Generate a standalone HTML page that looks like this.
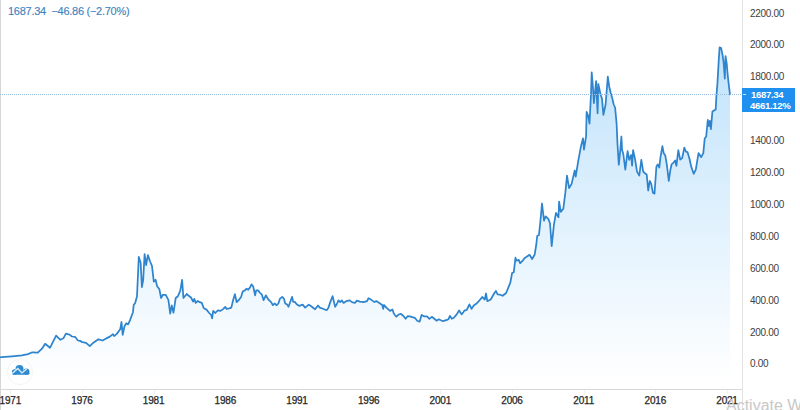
<!DOCTYPE html>
<html><head><meta charset="utf-8"><style>
html,body{margin:0;padding:0;background:#fff;}
body{width:800px;height:410px;position:relative;overflow:hidden;font-family:"Liberation Sans",sans-serif;}
svg{position:absolute;left:0;top:0;}
.yr{position:absolute;top:395px;width:40px;text-align:center;font-size:10px;line-height:12px;color:#262626;letter-spacing:-0.2px;-webkit-text-stroke:0.25px #262626;}
.pr{position:absolute;left:750px;font-size:10px;line-height:12px;color:#404040;letter-spacing:-0.3px;}
.legend{position:absolute;left:8px;top:5px;font-size:11px;line-height:13px;color:#3f84c0;white-space:pre;letter-spacing:-0.27px;-webkit-text-stroke:0.15px #3f84c0;}
.lbl{position:absolute;left:742px;top:88px;width:53px;height:24px;background:#1f8ff0;}
.lbl div{position:absolute;left:0;width:60px;text-align:left;color:#fff;font-size:9.6px;line-height:11px;font-weight:bold;letter-spacing:-0.35px;white-space:nowrap;}
.wm{position:absolute;left:726px;top:397px;font-size:16px;line-height:18px;color:#c8c8c8;white-space:nowrap;}
</style></head><body>
<svg width="800" height="410" viewBox="0 0 800 410">
<defs><linearGradient id="g" x1="0" y1="47" x2="0" y2="382" gradientUnits="userSpaceOnUse">
<stop offset="0" stop-color="#1f9af2" stop-opacity="0.28"/>
<stop offset="1" stop-color="#1f9af2" stop-opacity="0.0"/>
</linearGradient></defs>
<rect x="0" y="0" width="1" height="410" fill="#d6d6d6"/>
<path d="M0.5 357.3 L1.2 357.2 L12.2 356.3 L22 355.4 L28 354.1 L32.3 352.3 L37.8 352.7 L42 348.7 L45.1 343.8 L50 347.8 L56.1 335.6 L60.4 339.8 L63.4 338.3 L65.9 333.7 L69.5 334.6 L72 336.5 L75 336.8 L78 340.5 L80 340.9 L82.4 342.1 L86.1 342.9 L89.8 346.1 L93.4 342.7 L98.3 339.3 L102.6 340.5 L106.2 338.4 L109.9 336.6 L112.9 334.1 L114.1 336 L116.6 334.1 L120.2 329.3 L121.5 322 L122.7 334.8 L124.5 326.2 L126.3 323.2 L128.2 324.4 L130 320.1 L133 312.2 L133.7 304.9 L135.1 303.2 L137 296.2 L138.8 256.9 L140.6 262.4 L141.9 287.1 L143.2 279.8 L144.6 254.1 L146.1 265.1 L147.9 255.1 L150.1 261.5 L152 266 L153.8 281.6 L155.6 279.8 L157.1 286.2 L159.3 289 L161.1 298 L162.9 294.8 L165.7 294.8 L168.4 299.9 L170.2 313.6 L171.7 305.4 L173.5 312.7 L175.7 298 L177.9 296.2 L180.3 290.7 L182.1 279.8 L183.4 298 L186.7 294 L188.4 295.5 L191 297.5 L193.1 301.5 L194.4 298.9 L195.7 302.9 L197.8 300.9 L199.8 302.2 L201.8 302.9 L203.8 308.3 L206.5 309.6 L209.2 313 L211.2 315 L212.1 318.3 L213.2 310.9 L215.2 313 L217.9 310.3 L220.6 310.9 L223.3 308.9 L225.3 306.9 L226.6 308.9 L229.3 308.3 L231.3 307.6 L233.3 299.5 L234.9 294.2 L236.7 302.2 L238.7 300.2 L241.1 296.9 L242.7 291.5 L244.9 290.4 L246.6 288.7 L248.2 289.8 L249.9 287.6 L251.5 284.3 L253.2 286.5 L255.1 295.3 L256.2 290.4 L258.1 290.4 L259.7 292.5 L261.9 294.7 L263.6 300.2 L265.8 295.3 L268.5 299.7 L271.3 302.4 L272.9 305.2 L274.6 303.5 L276.7 305.2 L278.4 303.5 L280 298.6 L282.2 296.9 L283.9 298.6 L285.2 303.5 L287.2 304.6 L288.5 306.8 L290.5 301.3 L292.1 296.9 L293.2 301.9 L294.8 301.9 L296.7 304.2 L299.3 305.9 L302.7 304.6 L305.2 307.6 L308.7 304.6 L311.2 306.3 L315.1 309.3 L318 305.5 L319.8 307.6 L322.3 308.5 L326.6 310.2 L328.3 308 L330 302.9 L332.6 296.1 L335.1 306.8 L336.8 304.2 L338.5 300.4 L340.2 302.1 L341.9 300.4 L343.6 302.9 L346.2 301.2 L349.6 300.4 L352 302.1 L354.9 303 L356.8 300.6 L359.8 301.6 L363.7 302.1 L367.1 301.1 L368.5 298.2 L371 299.6 L374.4 302.1 L376.3 301.1 L379.3 303 L382.2 305 L383.2 308.9 L384.1 305 L386.6 307.9 L390 310.9 L392.4 309.4 L393.9 313.8 L396.3 316.7 L398.3 314.8 L400.7 313.8 L403.2 315.7 L405.6 318.7 L407.6 316.2 L409.9 316.3 L414.8 317.8 L417.2 320.7 L419.6 321.7 L421.6 314.9 L424 316.3 L427 316.3 L429.4 318.8 L431.8 316.8 L434.3 318.8 L436.7 320.7 L438.7 319.3 L443 321.2 L447 319.8 L448.4 319.3 L449.9 315.9 L451.8 318.8 L453.8 317.8 L456.7 314.4 L459.1 310.5 L461.6 314.4 L463.5 312 L464.3 310.6 L466.8 309.8 L469.4 304.3 L471.6 308.9 L473.7 305.5 L476.2 303.8 L478.8 301.2 L482.2 297 L484.8 299.5 L486 293.5 L487.3 301.2 L490.7 299.5 L494.1 293.5 L495.9 291 L497.6 294.4 L500.1 294.7 L502.7 295.8 L506.1 293 L508.7 286.7 L510.4 282.4 L512.1 273 L513.8 272.2 L515.5 257.7 L516.7 260.7 L518.8 259.9 L520.1 263.3 L522.7 260.7 L524.4 258.2 L527 256.5 L529.5 254.8 L532.1 259 L534.6 254.8 L536.3 244.5 L537.2 236 L538.9 235.1 L540.3 222.3 L542 203.5 L544 220.6 L545.7 216.3 L548.3 218.9 L550 223.2 L551.7 246.2 L553.9 224.9 L556 212.9 L558.5 217.2 L559.1 201.6 L560.8 211.9 L563.3 208.8 L565.4 192.2 L567 175.6 L569.1 188.1 L571.6 183.9 L574.7 170.5 L575.7 176.7 L578.2 161.1 L580.9 146.6 L583 138.3 L584 149.7 L586.1 136.2 L586.6 111.9 L588.1 115.5 L589.5 123.6 L591 94.3 L591.7 72.3 L592.9 87 L593.9 103.1 L596.1 81.1 L597.6 113.3 L598.3 84 L600.5 94.3 L602 98.7 L603.4 114.8 L605.6 104.5 L607.8 76.7 L609.3 87 L610.7 92.8 L612.2 97.9 L613.7 104.5 L615.1 107.5 L616.6 123.6 L617.5 144.3 L618.8 164.8 L620.2 151.1 L621.4 136.5 L622.1 150.1 L623.3 154 L625.3 169.6 L627.6 151.1 L629.2 159.9 L631.1 155 L632.1 165.7 L633.1 150.1 L635 158.9 L637 171.6 L639.3 175.5 L641.3 159.9 L643.2 171.6 L645.2 173.5 L646.7 174.5 L648.2 190.5 L649.8 181 L651.3 184.1 L652.9 192.8 L654.5 193.6 L656.4 166.7 L657.7 164.3 L659.3 167.5 L660.5 157.2 L662.4 146.1 L663.7 153.2 L665.3 155.6 L666.9 165.1 L668.8 181 L670.4 169.9 L671.6 164.3 L673.5 162.7 L675.1 160.4 L676.4 165.9 L678.3 150.1 L680.2 159.6 L682.2 158 L684.3 147.7 L685.9 151.6 L687.5 152.1 L689.6 159.3 L691.2 166.6 L693.7 173.8 L695.8 169.7 L698.5 153.1 L701.2 157.2 L703.3 153.1 L704.7 138.6 L706.2 136.5 L707.8 119.9 L708.9 126.1 L709.9 120.9 L710.9 129.2 L712.4 111.6 L714 110.6 L715.7 109.5 L716.4 96 L717.4 83.9 L718.9 57.6 L719.6 47.3 L721.1 48 L722.6 55.4 L723.7 63.4 L724.8 78.6 L725.5 56.1 L726.7 63.4 L727.7 75.1 L729.2 88.3 L730 94.3 L730 389 L0 389 Z" fill="url(#g)"/>
<path d="M0.5 357.3 L1.2 357.2 L12.2 356.3 L22 355.4 L28 354.1 L32.3 352.3 L37.8 352.7 L42 348.7 L45.1 343.8 L50 347.8 L56.1 335.6 L60.4 339.8 L63.4 338.3 L65.9 333.7 L69.5 334.6 L72 336.5 L75 336.8 L78 340.5 L80 340.9 L82.4 342.1 L86.1 342.9 L89.8 346.1 L93.4 342.7 L98.3 339.3 L102.6 340.5 L106.2 338.4 L109.9 336.6 L112.9 334.1 L114.1 336 L116.6 334.1 L120.2 329.3 L121.5 322 L122.7 334.8 L124.5 326.2 L126.3 323.2 L128.2 324.4 L130 320.1 L133 312.2 L133.7 304.9 L135.1 303.2 L137 296.2 L138.8 256.9 L140.6 262.4 L141.9 287.1 L143.2 279.8 L144.6 254.1 L146.1 265.1 L147.9 255.1 L150.1 261.5 L152 266 L153.8 281.6 L155.6 279.8 L157.1 286.2 L159.3 289 L161.1 298 L162.9 294.8 L165.7 294.8 L168.4 299.9 L170.2 313.6 L171.7 305.4 L173.5 312.7 L175.7 298 L177.9 296.2 L180.3 290.7 L182.1 279.8 L183.4 298 L186.7 294 L188.4 295.5 L191 297.5 L193.1 301.5 L194.4 298.9 L195.7 302.9 L197.8 300.9 L199.8 302.2 L201.8 302.9 L203.8 308.3 L206.5 309.6 L209.2 313 L211.2 315 L212.1 318.3 L213.2 310.9 L215.2 313 L217.9 310.3 L220.6 310.9 L223.3 308.9 L225.3 306.9 L226.6 308.9 L229.3 308.3 L231.3 307.6 L233.3 299.5 L234.9 294.2 L236.7 302.2 L238.7 300.2 L241.1 296.9 L242.7 291.5 L244.9 290.4 L246.6 288.7 L248.2 289.8 L249.9 287.6 L251.5 284.3 L253.2 286.5 L255.1 295.3 L256.2 290.4 L258.1 290.4 L259.7 292.5 L261.9 294.7 L263.6 300.2 L265.8 295.3 L268.5 299.7 L271.3 302.4 L272.9 305.2 L274.6 303.5 L276.7 305.2 L278.4 303.5 L280 298.6 L282.2 296.9 L283.9 298.6 L285.2 303.5 L287.2 304.6 L288.5 306.8 L290.5 301.3 L292.1 296.9 L293.2 301.9 L294.8 301.9 L296.7 304.2 L299.3 305.9 L302.7 304.6 L305.2 307.6 L308.7 304.6 L311.2 306.3 L315.1 309.3 L318 305.5 L319.8 307.6 L322.3 308.5 L326.6 310.2 L328.3 308 L330 302.9 L332.6 296.1 L335.1 306.8 L336.8 304.2 L338.5 300.4 L340.2 302.1 L341.9 300.4 L343.6 302.9 L346.2 301.2 L349.6 300.4 L352 302.1 L354.9 303 L356.8 300.6 L359.8 301.6 L363.7 302.1 L367.1 301.1 L368.5 298.2 L371 299.6 L374.4 302.1 L376.3 301.1 L379.3 303 L382.2 305 L383.2 308.9 L384.1 305 L386.6 307.9 L390 310.9 L392.4 309.4 L393.9 313.8 L396.3 316.7 L398.3 314.8 L400.7 313.8 L403.2 315.7 L405.6 318.7 L407.6 316.2 L409.9 316.3 L414.8 317.8 L417.2 320.7 L419.6 321.7 L421.6 314.9 L424 316.3 L427 316.3 L429.4 318.8 L431.8 316.8 L434.3 318.8 L436.7 320.7 L438.7 319.3 L443 321.2 L447 319.8 L448.4 319.3 L449.9 315.9 L451.8 318.8 L453.8 317.8 L456.7 314.4 L459.1 310.5 L461.6 314.4 L463.5 312 L464.3 310.6 L466.8 309.8 L469.4 304.3 L471.6 308.9 L473.7 305.5 L476.2 303.8 L478.8 301.2 L482.2 297 L484.8 299.5 L486 293.5 L487.3 301.2 L490.7 299.5 L494.1 293.5 L495.9 291 L497.6 294.4 L500.1 294.7 L502.7 295.8 L506.1 293 L508.7 286.7 L510.4 282.4 L512.1 273 L513.8 272.2 L515.5 257.7 L516.7 260.7 L518.8 259.9 L520.1 263.3 L522.7 260.7 L524.4 258.2 L527 256.5 L529.5 254.8 L532.1 259 L534.6 254.8 L536.3 244.5 L537.2 236 L538.9 235.1 L540.3 222.3 L542 203.5 L544 220.6 L545.7 216.3 L548.3 218.9 L550 223.2 L551.7 246.2 L553.9 224.9 L556 212.9 L558.5 217.2 L559.1 201.6 L560.8 211.9 L563.3 208.8 L565.4 192.2 L567 175.6 L569.1 188.1 L571.6 183.9 L574.7 170.5 L575.7 176.7 L578.2 161.1 L580.9 146.6 L583 138.3 L584 149.7 L586.1 136.2 L586.6 111.9 L588.1 115.5 L589.5 123.6 L591 94.3 L591.7 72.3 L592.9 87 L593.9 103.1 L596.1 81.1 L597.6 113.3 L598.3 84 L600.5 94.3 L602 98.7 L603.4 114.8 L605.6 104.5 L607.8 76.7 L609.3 87 L610.7 92.8 L612.2 97.9 L613.7 104.5 L615.1 107.5 L616.6 123.6 L617.5 144.3 L618.8 164.8 L620.2 151.1 L621.4 136.5 L622.1 150.1 L623.3 154 L625.3 169.6 L627.6 151.1 L629.2 159.9 L631.1 155 L632.1 165.7 L633.1 150.1 L635 158.9 L637 171.6 L639.3 175.5 L641.3 159.9 L643.2 171.6 L645.2 173.5 L646.7 174.5 L648.2 190.5 L649.8 181 L651.3 184.1 L652.9 192.8 L654.5 193.6 L656.4 166.7 L657.7 164.3 L659.3 167.5 L660.5 157.2 L662.4 146.1 L663.7 153.2 L665.3 155.6 L666.9 165.1 L668.8 181 L670.4 169.9 L671.6 164.3 L673.5 162.7 L675.1 160.4 L676.4 165.9 L678.3 150.1 L680.2 159.6 L682.2 158 L684.3 147.7 L685.9 151.6 L687.5 152.1 L689.6 159.3 L691.2 166.6 L693.7 173.8 L695.8 169.7 L698.5 153.1 L701.2 157.2 L703.3 153.1 L704.7 138.6 L706.2 136.5 L707.8 119.9 L708.9 126.1 L709.9 120.9 L710.9 129.2 L712.4 111.6 L714 110.6 L715.7 109.5 L716.4 96 L717.4 83.9 L718.9 57.6 L719.6 47.3 L721.1 48 L722.6 55.4 L723.7 63.4 L724.8 78.6 L725.5 56.1 L726.7 63.4 L727.7 75.1 L729.2 88.3 L730 94.3" fill="none" stroke="#2f84ce" stroke-width="1.75" stroke-linejoin="round" stroke-linecap="round"/>
<line x1="0" y1="94.5" x2="742" y2="94.5" stroke="#99bde0" stroke-width="1" stroke-dasharray="1 1"/>
<rect x="742" y="0" width="1" height="410" fill="#e3e3e3"/>
<rect x="0" y="389" width="742" height="1" fill="#d8d8d8"/>
<line x1="10.5" y1="390" x2="10.5" y2="394" stroke="#f0f0f0" stroke-width="1"/><line x1="82.5" y1="390" x2="82.5" y2="394" stroke="#f0f0f0" stroke-width="1"/><line x1="154.5" y1="390" x2="154.5" y2="394" stroke="#f0f0f0" stroke-width="1"/><line x1="225.5" y1="390" x2="225.5" y2="394" stroke="#f0f0f0" stroke-width="1"/><line x1="297.5" y1="390" x2="297.5" y2="394" stroke="#f0f0f0" stroke-width="1"/><line x1="369.5" y1="390" x2="369.5" y2="394" stroke="#f0f0f0" stroke-width="1"/><line x1="440.5" y1="390" x2="440.5" y2="394" stroke="#f0f0f0" stroke-width="1"/><line x1="512.5" y1="390" x2="512.5" y2="394" stroke="#f0f0f0" stroke-width="1"/><line x1="584.5" y1="390" x2="584.5" y2="394" stroke="#f0f0f0" stroke-width="1"/><line x1="655.5" y1="390" x2="655.5" y2="394" stroke="#f0f0f0" stroke-width="1"/><line x1="727.5" y1="390" x2="727.5" y2="394" stroke="#f0f0f0" stroke-width="1"/>
<circle cx="20" cy="372" r="12.5" fill="#fff" stroke="#f7f3ee" stroke-width="1"/>
<g fill="#2f8bd0"><circle cx="14.6" cy="372" r="2.7"/><circle cx="19.5" cy="368.9" r="4"/><circle cx="26.3" cy="371.6" r="3.1"/><rect x="12" y="371.5" width="17.5" height="3.2" rx="1.5"/></g>
<path d="M12.2 373.6 L17.8 368.5 L21.9 372.9 L26.8 369" fill="none" stroke="#dff0fb" stroke-width="1.3"/>
</svg>
<div class="legend">1687.34  −46.86 (−2.70%)</div>
<div class="yr" style="left:-9.7px">1971</div><div class="yr" style="left:62.0px">1976</div><div class="yr" style="left:133.6px">1981</div><div class="yr" style="left:205.3px">1986</div><div class="yr" style="left:277.0px">1991</div><div class="yr" style="left:348.7px">1996</div><div class="yr" style="left:420.3px">2001</div><div class="yr" style="left:492.0px">2006</div><div class="yr" style="left:563.7px">2011</div><div class="yr" style="left:635.3px">2016</div><div class="yr" style="left:707.0px">2021</div>
<div class="pr" style="top:7.5px">2200.00</div><div class="pr" style="top:39.4px">2000.00</div><div class="pr" style="top:71.3px">1800.00</div><div class="pr" style="top:135.1px">1400.00</div><div class="pr" style="top:167.0px">1200.00</div><div class="pr" style="top:198.9px">1000.00</div><div class="pr" style="top:230.8px">800.00</div><div class="pr" style="top:262.7px">600.00</div><div class="pr" style="top:294.6px">400.00</div><div class="pr" style="top:326.5px">200.00</div><div class="pr" style="top:358.4px">0.00</div>
<div class="lbl"><span style="position:absolute;left:1px;top:6px;width:3px;height:1px;background:#cfe6fb"></span><div style="top:1px;left:9px">1687.34</div><div style="top:12px;left:8px">4661.12%</div></div>
<div class="wm">Activate W</div>
</body></html>
